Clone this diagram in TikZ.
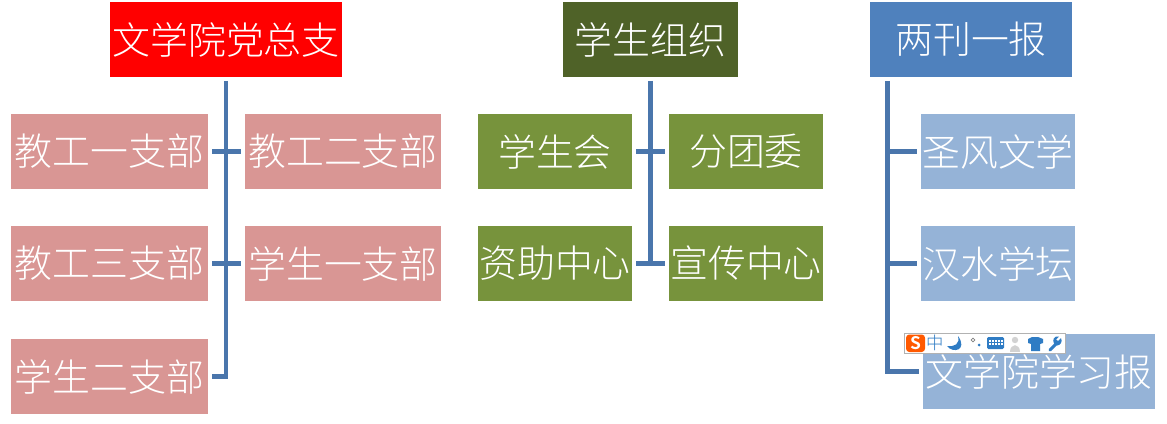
\documentclass[tikz,border=0pt]{standalone}
\usepackage{fontspec}
\setmainfont{Noto Sans CJK SC Light}
\usetikzlibrary{calc}
\definecolor{cpink}{HTML}{D99694}
\definecolor{cdgreen}{HTML}{4F6228}
\definecolor{cgreen}{HTML}{77933C}
\definecolor{cblue}{HTML}{4F81BD}
\definecolor{clblue}{HTML}{95B3D7}
\definecolor{cline}{HTML}{4A76AC}
\definecolor{ctool}{HTML}{2F7CC4}
\tikzset{
  x=0.75pt,y=-0.75pt,
  box/.style={fill=#1,text=white,inner sep=0pt,outer sep=3pt,xshift=-3pt,yshift=3pt,font=\fontsize{28.4pt}{28.4pt}\selectfont,anchor=north west},
  conn/.style={draw=cline,line width=3.3pt}
}
\begin{document}
\begin{tikzpicture}
\useasboundingbox (0,0) rectangle (1167,424);
% left group
\node[box=red,minimum width=174pt,minimum height=56.25pt] (top1) at (110,2) {文学院党总支};
\node[box=cpink,minimum width=147.75pt,minimum height=56.25pt] (a1) at (11,114) {教工一支部};
\node[box=cpink,minimum width=147pt,minimum height=56.25pt] (a2) at (245,114) {教工二支部};
\node[box=cpink,minimum width=147.75pt,minimum height=56.25pt] (a3) at (11,226) {教工三支部};
\node[box=cpink,minimum width=147pt,minimum height=56.25pt] (a4) at (245,226) {学生一支部};
\node[box=cpink,minimum width=147.75pt,minimum height=56.25pt] (a5) at (11,339) {学生二支部};
\coordinate (t1) at (226,81);
\draw[conn,line join=miter] (t1) |- (a5.east);
\draw[conn] (a1.east) -- (a2.west);
\draw[conn] (a3.east) -- (a4.west);
% middle group
\node[box=cdgreen,minimum width=131.25pt,minimum height=56.25pt] (top2) at (563,2) {学生组织};
\node[box=cgreen,minimum width=115.5pt,minimum height=56.25pt] (b1) at (478,114) {学生会};
\node[box=cgreen,minimum width=115.5pt,minimum height=56.25pt] (b2) at (669,114) {分团委};
\node[box=cgreen,minimum width=115.5pt,minimum height=56.25pt] (b3) at (478,226) {资助中心};
\node[box=cgreen,minimum width=115.5pt,minimum height=56.25pt] (b4) at (669,226) {宣传中心};
\coordinate (t2) at (650.5,81);
\draw[conn] (t2) -- (t2 |- b4.west);
\draw[conn] (b1.east) -- (b2.west);
\draw[conn] (b3.east) -- (b4.west);
% right group
\node[box=cblue,minimum width=151.5pt,minimum height=56.25pt] (top3) at (870,2) {两刊一报};
\node[box=clblue,minimum width=115.5pt,minimum height=56.25pt] (c1) at (921,114) {圣风文学};
\node[box=clblue,minimum width=115.5pt,minimum height=56.25pt] (c2) at (921,226) {汉水学坛};
\node[box=clblue,minimum width=174pt,minimum height=56.25pt] (c3) at (923,334) {文学院学习报};
\coordinate (t3) at (887.5,81);
\draw[conn] (t3) |- (c3.west);
\draw[conn] (t3 |- c1.west) -- (c1.west);
\draw[conn] (t3 |- c2.west) -- (c2.west);
% input method toolbar
\fill[white] (904,333) rectangle (1065,353);
\draw[gray!60,line width=0.6pt] (904,333) rectangle (1065,353);
\fill[orange!70!red,rounded corners=2.5pt] (906,334.5) rectangle (925,352);
\node[text=white,inner sep=0pt,font=\fontsize{13pt}{13pt}\bfseries\selectfont] (sg) at (915.5,343) {S};
\node[text=ctool,inner sep=0pt,font=\fontsize{13pt}{13pt}\selectfont] (zh) at (935,343) {中};
\fill[ctool] (958,336) .. controls (960,344) and (955,347) .. (947,346) .. controls (953,354) and (968,350) .. (958,336);
\draw[gray,line width=0.5pt] (973,340) circle (1.8);
\fill[ctool] (979,345) circle (1.5);
\fill[ctool,rounded corners=1pt] (987,337) rectangle (1004,349);
\foreach \i in {0,...,4}{\fill[white] (989+3*\i,339.5) rectangle ++(2,2); \fill[white] (989+3*\i,343) rectangle ++(2,2);}
\fill[gray!35] (1015,340) circle (3.2);
\fill[gray!35] (1010,352) .. controls (1010,343) and (1020,343) .. (1020,352) -- cycle;
\fill[ctool] (1028,339) -- (1032,337) -- (1038,337) -- (1043,339) -- (1043,343) -- (1040,344) -- (1040,351) -- (1031,351) -- (1031,344) -- (1028,343) -- cycle;
\draw[ctool,line width=2.2pt,line cap=round] (1050,350) -- (1057,343);
\fill[ctool] (1061,338) -- (1058,341) -- (1056,339.5) -- (1059,336.5) .. controls (1054,335.5) and (1052,340) .. (1054,343.5) -- (1057,345.5) .. controls (1060,345.5) and (1063,342) .. (1061,338) -- cycle;
\end{tikzpicture}
\end{document}
